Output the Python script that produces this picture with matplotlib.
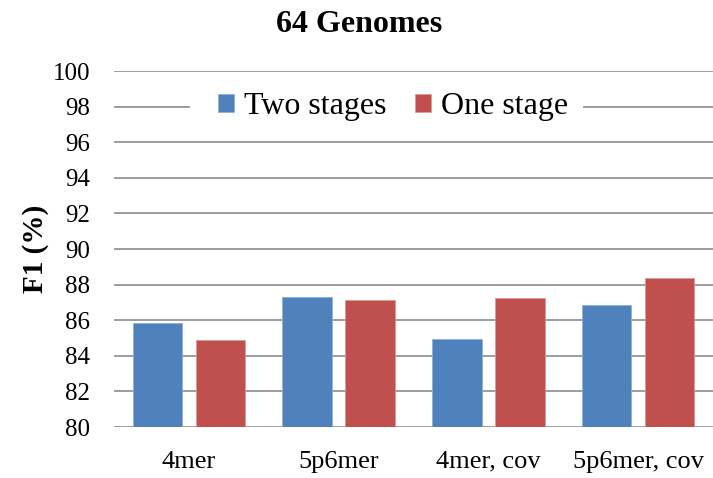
import matplotlib
matplotlib.use("Agg")
import matplotlib.pyplot as plt
from matplotlib.patches import Rectangle
import numpy as np

categories = ["4mer", "5p6mer", "4mer, cov", "5p6mer, cov"]
two_stages = [85.85, 87.33, 84.95, 86.86]
one_stage = [84.86, 87.14, 87.23, 88.38]
series_names = ["Two stages", "One stage"]
yticks = [80, 82, 84, 86, 88, 90, 92, 94, 96, 98, 100]

plt.rcParams["font.family"] = ["Liberation Serif", "DejaVu Serif"]

fig = plt.figure(figsize=(7.13, 4.78), dpi=100)
ax = fig.add_axes([114 / 713, 1 - 427 / 478, 599 / 713, 356 / 478])

x = np.arange(len(categories))
w = 0.33
off = 0.21
ax.bar(x - off, two_stages, w, color="#4F81BD", edgecolor="#8FB0DA",
       linewidth=0.6, label=series_names[0], zorder=3)
ax.bar(x + off, one_stage, w, color="#C0504D", edgecolor="#E09896",
       linewidth=0.6, label=series_names[1], zorder=3)

ax.set_ylim(80, 100)
ax.set_xlim(-0.5, 3.5)
ax.set_yticks(yticks)
ax.set_xticks(x)
ax.set_xticklabels(categories, fontsize=19)
ax.tick_params(axis="y", labelsize=18, length=0, pad=17)
ax.tick_params(axis="x", length=0, pad=17)
ax.grid(axis="y", color="#8C8C8C", linewidth=1.2, zorder=0)
for s in ax.spines.values():
    s.set_visible(False)

ax.set_ylabel("F1 (%)", fontsize=21, fontweight="bold", labelpad=3)
fig.text(359 / 713, 1 - 25 / 478, "64 Genomes", ha="center",
         va="center", fontsize=23, fontweight="bold")

# white band behind the legend, interrupting the gridline
band_x0 = (190 - 114) / 599
band_w = (583 - 190) / 599
ax.add_patch(Rectangle((band_x0, 0.85), band_w, 0.1, transform=ax.transAxes,
                       facecolor="white", edgecolor="none", zorder=2))
leg = ax.legend(loc="center", bbox_to_anchor=((393 - 114) / 599, 0.9), ncol=2,
                fontsize=23, frameon=False,
                handlelength=0.5, handleheight=0.5, handletextpad=0.3,
                columnspacing=0.9, borderpad=0.1)

fig.savefig("out.png", dpi=100)
